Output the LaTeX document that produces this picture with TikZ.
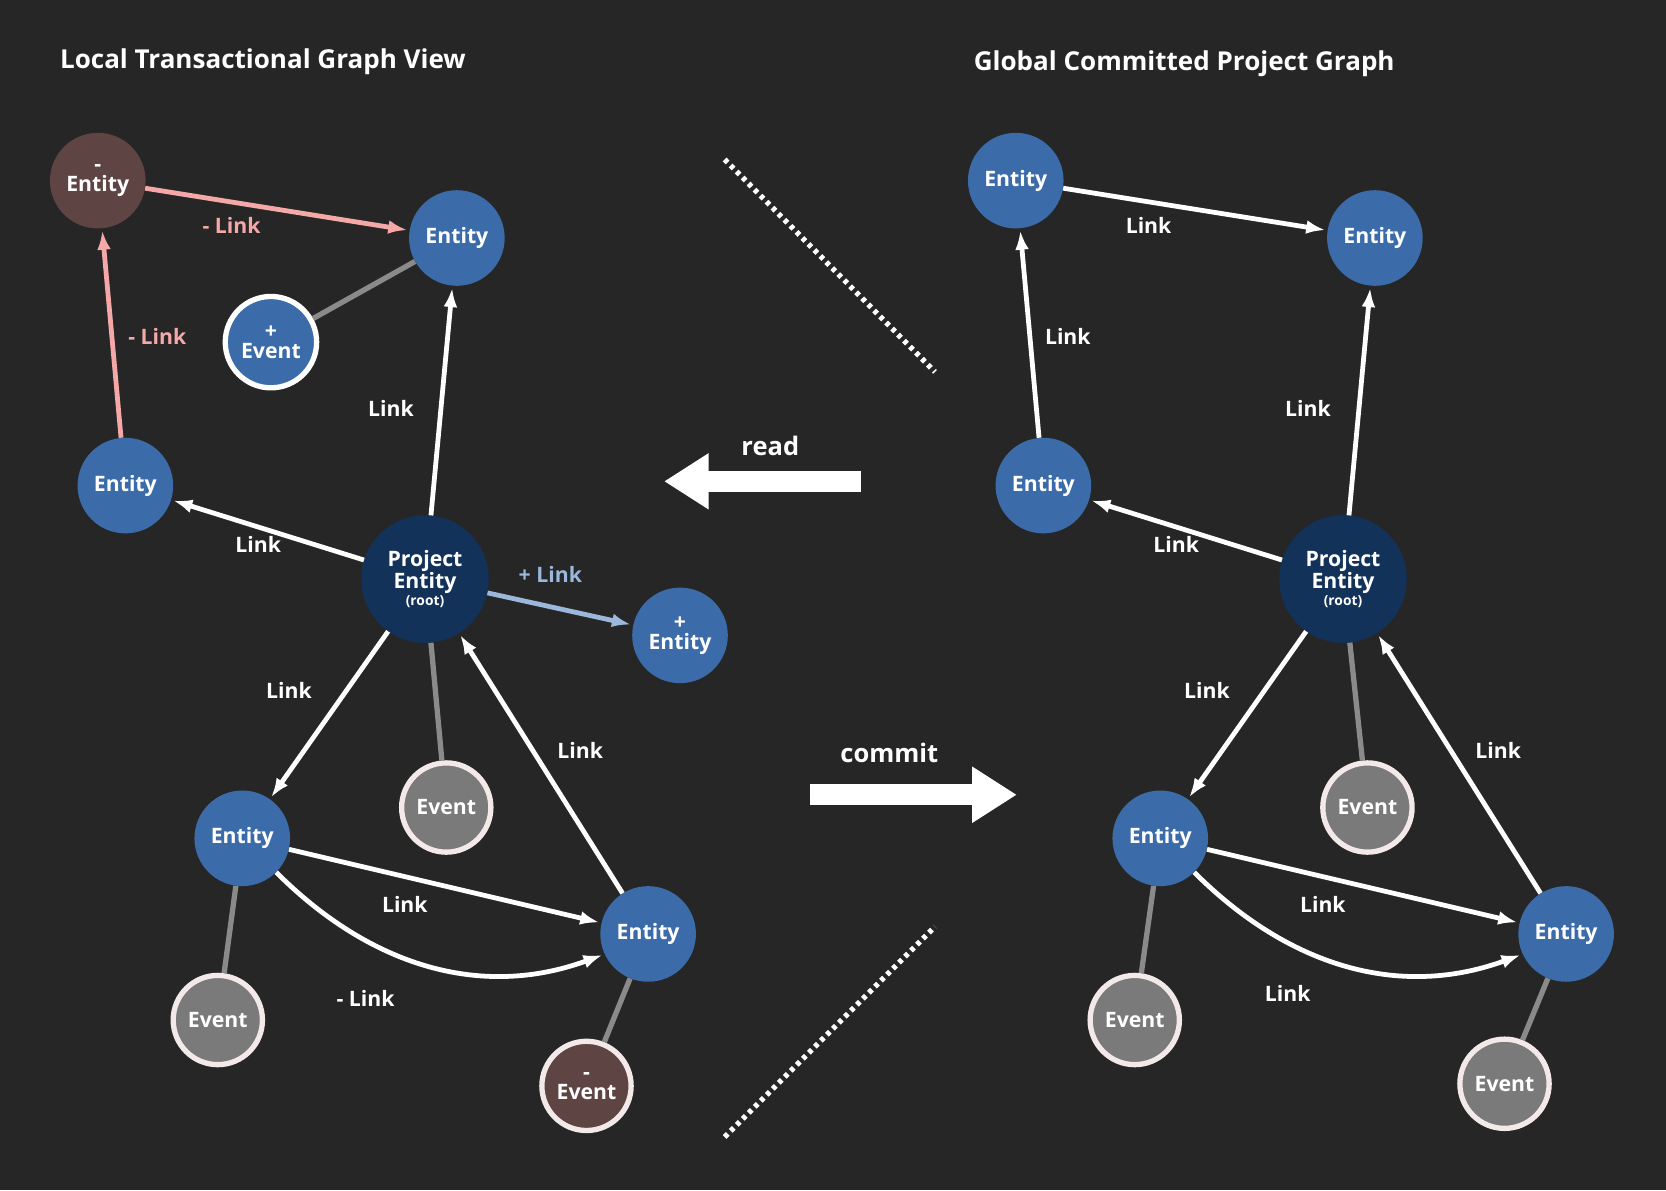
\documentclass[tikz,border=0pt]{standalone}
\usepackage{fontspec}
\setmainfont{Open Sans}
\usetikzlibrary{arrows.meta}
\definecolor{bg}{HTML}{262626}
\definecolor{ent}{HTML}{3B6BA8}
\definecolor{root}{HTML}{12325A}
\definecolor{neg}{HTML}{5E4443}
\definecolor{ev}{HTML}{7A7A7A}
\definecolor{evb}{HTML}{F3E9E9}
\definecolor{pinkc}{HTML}{F4A9A8}
\definecolor{bluec}{HTML}{9BB8DC}
\definecolor{greyl}{HTML}{8A8A8A}
\tikzset{
 every node/.style={font=\fontsize{20}{22}\selectfont\bfseries, text=white, align=center},
 ent/.style={circle, fill=ent, minimum size=90pt, inner sep=0pt},
 rootn/.style={circle, fill=root, minimum size=120pt, inner sep=0pt},
 negn/.style={circle, fill=neg, minimum size=90pt, inner sep=0pt},
 evn/.style={circle, fill=ev, draw=evb, line width=5pt, minimum size=84pt, inner sep=0pt},
 lnk/.style={draw=white, line width=4.5pt, -{Latex[length=18pt,width=13pt]}, shorten >=2pt},
 plnk/.style={lnk, draw=pinkc},
 blnk/.style={lnk, draw=bluec},
 gl/.style={draw=greyl, line width=5pt},
 lab/.style={font=\fontsize{20}{22}\selectfont\bfseries},
 title/.style={font=\fontsize{24.5}{27}\selectfont\bfseries, anchor=west},
}
\begin{document}
\begin{tikzpicture}[x=1pt,y=-1pt]
\fill[bg] (0,0) rectangle (1568,1120);
\useasboundingbox (0,0) rectangle (1568,1120);
\node[title] (t1) at (53,58) {Local Transactional Graph View};
\node[title] (t2) at (913,60) {Global Committed Project Graph};
% ---------- left
\node[negn] (LN) at (92,170) {-\\[-3pt]Entity};
\node[ent] (LT) at (430,224) {Entity};
\node[ent, draw=white, line width=5pt, minimum size=86pt] (LPE) at (255,322) {+\\[-3pt]Event};
\node[ent] (LL) at (118,457) {Entity};
\node[rootn] (LP) at (400,545) {Project\\[-2pt]Entity\\[-6pt]{\fontsize{13}{14}\selectfont (root)}};
\node[ent] (LPN) at (640,598) {+\\[-3pt]Entity};
\node[evn] (LE1) at (420,760) {Event};
\node[ent] (LBL) at (228,789) {Entity};
\node[ent] (LBR) at (610,879) {Entity};
\node[evn] (LE2) at (205,960) {Event};
\node[negn, draw=evb, line width=5pt, minimum size=84pt] (LE3) at (552,1022) {-\\[-3pt]Event};
\draw[plnk] (LN) -- (LT);
\draw[plnk] (LL) -- (LN);
\draw[gl] (LPE) -- (LT);
\draw[lnk] (LP) -- (LT);
\draw[lnk] (LP) -- (LL);
\draw[blnk] (LP) -- (LPN);
\draw[lnk] (LP) -- (LBL);
\draw[gl] (LP) -- (LE1);
\draw[lnk] (LBR) -- (LP);
\draw[lnk] (LBL) -- (LBR);
\draw[lnk] (LBL.-45) to[out=-45,in=200] (LBR.205);
\draw[gl] (LBL) -- (LE2);
\draw[gl] (LBR) -- (LE3);
\node[lab, text=pinkc] at (218,212) {- Link};
\node[lab, text=pinkc] at (148,317) {- Link};
\node[lab] at (368,384) {Link};
\node[lab] at (243,512) {Link};
\node[lab, text=bluec] at (518,541) {+ Link};
\node[lab] at (272,650) {Link};
\node[lab] at (546,706) {Link};
\node[lab] at (381,851) {Link};
\node[lab] at (344,940) {- Link};
% ---------- right
\node[ent] (RN) at (956,170) {Entity};
\node[ent] (RT) at (1294,224) {Entity};
\node[ent] (RL) at (982,457) {Entity};
\node[rootn] (RP) at (1264,545) {Project\\[-2pt]Entity\\[-6pt]{\fontsize{13}{14}\selectfont (root)}};
\node[evn] (RE1) at (1287,760) {Event};
\node[ent] (RBL) at (1092,789) {Entity};
\node[ent] (RBR) at (1474,879) {Entity};
\node[evn] (RE2) at (1068,960) {Event};
\node[evn] (RE3) at (1416,1020) {Event};
\draw[lnk] (RN) -- (RT);
\draw[lnk] (RL) -- (RN);
\draw[lnk] (RP) -- (RT);
\draw[lnk] (RP) -- (RL);
\draw[lnk] (RP) -- (RBL);
\draw[gl] (RP) -- (RE1);
\draw[lnk] (RBR) -- (RP);
\draw[lnk] (RBL) -- (RBR);
\draw[lnk] (RBL.-45) to[out=-45,in=200] (RBR.205);
\draw[gl] (RBL) -- (RE2);
\draw[gl] (RBR) -- (RE3);
\node[lab] at (1081,212) {Link};
\node[lab] at (1005,317) {Link};
\node[lab] at (1231,384) {Link};
\node[lab] at (1107,512) {Link};
\node[lab] at (1136,650) {Link};
\node[lab] at (1410,706) {Link};
\node[lab] at (1245,851) {Link};
\node[lab] at (1212,935) {Link};
% ---------- middle
\coordinate (r1) at (810,453);
\coordinate (r2) at (625,453);
\draw[white, line width=20pt, -{Triangle[length=42pt,width=50pt]}] (r1) -- (r2);
\node[lab, font=\fontsize{24}{26}\selectfont\bfseries] (rd) at (725,420) {read};
\coordinate (c1) at (762,748);
\coordinate (c2) at (957,748);
\draw[white, line width=20pt, -{Triangle[length=42pt,width=50pt]}] (c1) -- (c2);
\node[lab, font=\fontsize{24}{26}\selectfont\bfseries] (cm) at (837,709) {commit};
\coordinate (d1) at (682,150);
\coordinate (d2) at (880,350);
\coordinate (d3) at (682,1070);
\coordinate (d4) at (880,872);
\draw[white, line width=5pt, dash pattern=on 4pt off 4pt] (d1) -- (d2);
\draw[white, line width=5pt, dash pattern=on 4pt off 4pt] (d3) -- (d4);
\end{tikzpicture}
\end{document}
